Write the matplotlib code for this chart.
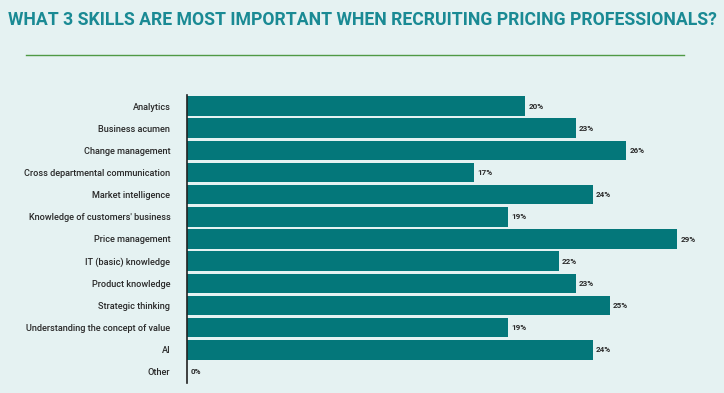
import matplotlib.pyplot as plt
from matplotlib.lines import Line2D

# Survey data
skills = ["Analytics", "Business acumen", "Change management",
          "Cross departmental communication", "Market intelligence",
          "Knowledge of customers' business", "Price management",
          "IT (basic) knowledge", "Product knowledge", "Strategic thinking",
          "Understanding the concept of value", "AI", "Other"]
shares = [20, 23, 26, 17, 24, 19, 29, 22, 23, 25, 19, 24, 0]
title = "WHAT 3 SKILLS ARE MOST IMPORTANT WHEN RECRUITING PRICING PROFESSIONALS?"

bg = "#E5F2F2"
bar_color = "#04777A"
text_color = "#2A2A2A"

W, H = 724, 393
fig = plt.figure(figsize=(W / 100, H / 100), dpi=100, facecolor=bg)

# axes placed in pixel coordinates of the reference
left, right, top, bottom = 187, 700, 95, 383
ax = fig.add_axes([left / W, 1 - bottom / H, (right - left) / W, (bottom - top) / H])
ax.set_facecolor(bg)

y = list(range(len(skills)))
ax.barh(y, shares, height=0.88, color=bar_color)
ax.set_ylim(len(skills) - 0.5, -0.5)
ax.set_xlim(0, (right - left) / 16.9)

for yi, v in zip(y, shares):
    ax.text(v + 0.2, yi, f"{v}%", va="center", ha="left", fontsize=5.8,
            fontweight="bold", color=text_color, family="Roboto")

ax.set_yticks(y)
ax.set_yticklabels(skills, fontsize=6.6, fontweight="medium", color=text_color,
                   family="Roboto")
ax.tick_params(axis="y", length=0, pad=12)
ax.set_xticks([])
for s in ["top", "right", "bottom"]:
    ax.spines[s].set_visible(False)
ax.spines["left"].set_color("#222222")
ax.spines["left"].set_linewidth(1.2)

fig.text(0.5, 1 - 20 / H, title, ha="center", va="center", fontsize=12.7,
         fontweight="bold", color="#1A8A94", family="Roboto")
fig.add_artist(Line2D([26 / W, 684 / W], [1 - 55 / H, 1 - 55 / H],
                      color="#4F9A45", linewidth=1.0))

fig.savefig("out.png", dpi=100, facecolor=bg)
